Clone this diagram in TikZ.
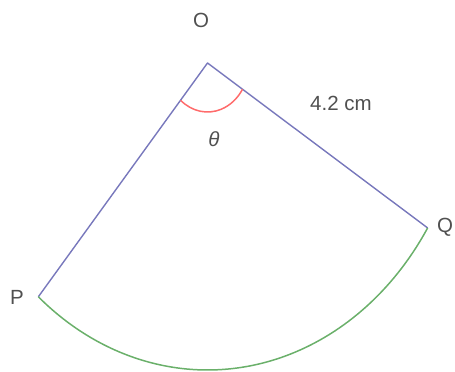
\documentclass[tikz,border=0pt]{standalone}
\usepackage{fontspec}
\setmainfont{Liberation Sans}
\usetikzlibrary{calc}
\definecolor{sideblue}{HTML}{7878BC}
\definecolor{arcgreen}{HTML}{6AB06A}
\definecolor{anglered}{HTML}{FF6B6B}
\definecolor{txtgray}{HTML}{505050}
\tikzset{
  sideline/.style={draw=sideblue, line width=1.4pt, line join=round},
  arcline/.style={draw=arcgreen, line width=1.5pt},
  angleline/.style={draw=anglered, line width=1.5pt},
  lbl/.style={text=txtgray, font=\fontsize{20.5}{22}\selectfont, inner sep=0pt}
}
\begin{document}
\begin{tikzpicture}[x=1pt,y=1pt]
\useasboundingbox (0,0) rectangle (455,372);
\coordinate (O) at (207.5,309);
\coordinate (P) at ($(O)+(229.6:261pt and 307pt)$);
\coordinate (Q) at ($(O)+(327.5:261pt and 307pt)$);
\coordinate (A1) at ($(O)+(229.6:41.5pt and 49pt)$);
% sides
\draw[sideline] (P) -- (O) -- (Q);
% circular arc (drawn stretched as in the reference)
\draw[arcline] (P) arc[start angle=229.6, end angle=327.5, x radius=261pt, y radius=307pt];
% angle mark
\draw[angleline] (A1) arc[start angle=229.6, end angle=327.5, x radius=41.5pt, y radius=49pt];
% labels
\node[lbl] (lO) at (201,352) {O};
\node[lbl] (lP) at (17,75) {P};
\node[lbl] (lQ) at (445,145) {Q};
\node[lbl] (lt) at (214,233) {\itshape θ};
\node[lbl] (ll) at (341,269) {4.2 cm};
\end{tikzpicture}
\end{document}
